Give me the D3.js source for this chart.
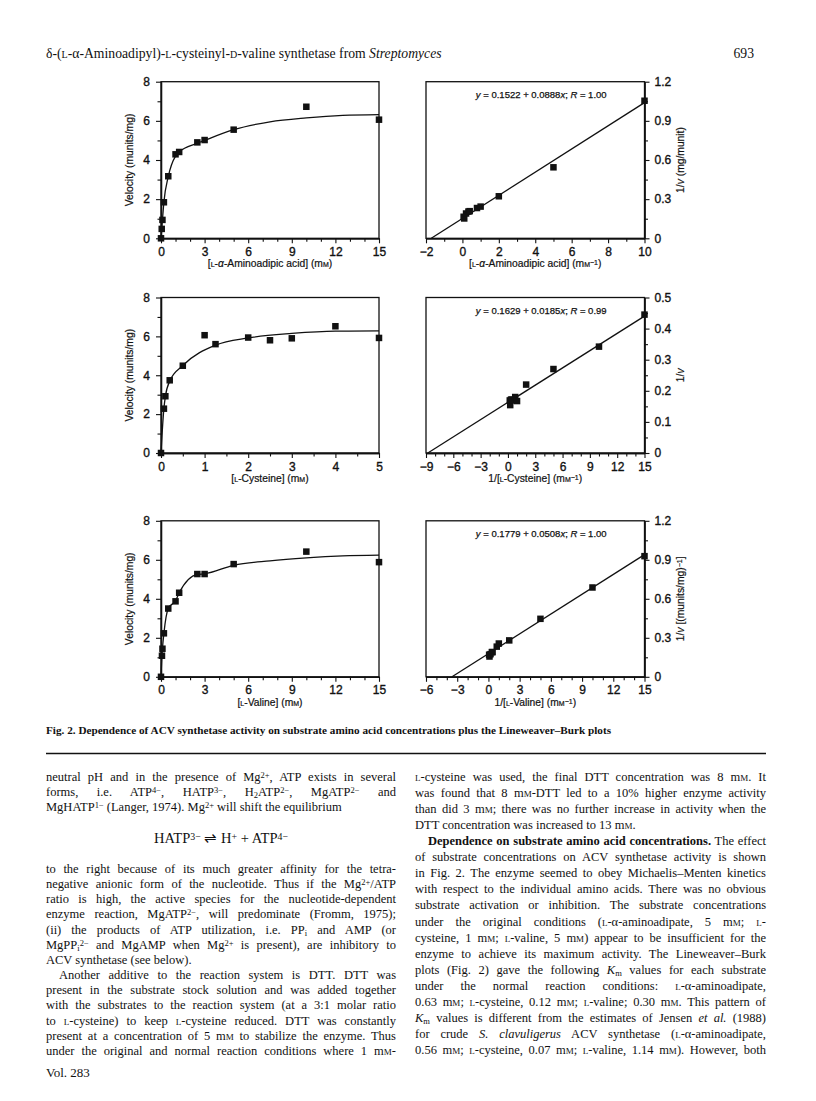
<!DOCTYPE html>
<html><head><meta charset="utf-8">
<script src="https://cdn.jsdelivr.net/npm/d3@7"></script>
<style>body{margin:0;background:#fff}</style>
</head><body>
<svg id="c" width="816" height="1101"></svg>
<script>
// ---------------- DATA ----------------
// Panel A: L-alpha-aminoadipic acid, velocity vs concentration
const aadConc = [0, 0.05, 0.1, 0.2, 0.5, 1.0, 1.25, 2.5, 3, 5, 10, 15];
const aadVel  = [0, 0.48, 0.94, 1.84, 3.17, 4.29, 4.41, 4.9, 5.02, 5.55, 6.72, 6.06];
const aadCurveConc = [0, 0.1, 0.2, 0.5, 1, 1.25, 2.5, 3, 5, 7.5, 10, 12.5, 15];
const aadCurveVel  = [0, 0.95, 1.85, 3.15, 4.2, 4.4, 4.85, 5.0, 5.55, 5.95, 6.15, 6.28, 6.32];
// Panel B: Lineweaver-Burk, aminoadipic acid
const aadInvConc = [0.067, 0.1, 0.2, 0.33, 0.4, 0.8, 1.0, 2.0, 5.0, 10.0];
const aadInvVel  = [0.165, 0.152, 0.19, 0.205, 0.208, 0.232, 0.243, 0.322, 0.544, 1.054];
const aadFitX = [-1.71, 10];
const aadFitY = [0, 1.04];
const aadEq = "|y| = 0.1522 + 0.0888|x|; |R| = 1.00";
// Panel C: L-cysteine
const cysConc = [0, 0.067, 0.1, 0.2, 0.5, 1, 1.25, 2, 2.5, 3, 4, 5];
const cysVel  = [0, 2.28, 2.92, 3.74, 4.49, 6.06, 5.6, 5.94, 5.8, 5.9, 6.52, 5.92];
const cysCurveConc = [0, 0.067, 0.1, 0.2, 0.5, 1.25, 2, 3, 4, 5];
const cysCurveVel  = [0, 2.3, 2.9, 3.7, 4.5, 5.55, 5.92, 6.15, 6.27, 6.28];
// Panel D: Lineweaver-Burk, cysteine
const cysInvConc = [0.2, 0.25, 0.33, 0.4, 0.5, 0.8, 1, 2, 5, 10, 15];
const cysInvVel  = [0.169, 0.154, 0.171, 0.172, 0.169, 0.18, 0.167, 0.22, 0.27, 0.342, 0.445];
const cysFitX = [-8.8, 15];
const cysFitY = [0, 0.44];
const cysEq = "|y| = 0.1629 + 0.0185|x|; |R| = 0.99";
// Panel E: L-valine
const valConc = [0, 0.067, 0.1, 0.2, 0.5, 1, 1.25, 2.5, 3, 5, 10, 15];
const valVel  = [0, 1.08, 1.44, 2.23, 3.5, 3.87, 4.31, 5.27, 5.27, 5.78, 6.42, 5.88];
const valCurveConc = [0, 0.067, 0.1, 0.2, 0.5, 1, 1.25, 2.5, 3, 5, 7.5, 10, 12.5, 15];
const valCurveVel  = [0, 1.1, 1.45, 2.23, 3.5, 3.9, 4.3, 5.25, 5.28, 5.72, 5.95, 6.1, 6.2, 6.24];
// Panel F: Lineweaver-Burk, valine
const valInvConc = [0.067, 0.1, 0.2, 0.33, 0.4, 0.8, 1, 2, 5, 10, 15];
const valInvVel  = [0.17, 0.156, 0.174, 0.19, 0.19, 0.232, 0.256, 0.28, 0.446, 0.687, 0.928];
const valFitX = [-3.5, 15];
const valFitY = [0, 0.94];
const valEq = "|y| = 0.1779 + 0.0508|x|; |R| = 1.00";

// Tick labels
const velTicks = [0, 2, 4, 6, 8];
const conc15Ticks = [0, 3, 6, 9, 12, 15];
const cysTicks = [0, 1, 2, 3, 4, 5];
const aadInvTicks = [-2, 0, 2, 4, 6, 8, 10];
const cysInvTicks = [-9, -6, -3, 0, 3, 6, 9, 12, 15];
const valInvTicks = [-6, -3, 0, 3, 6, 9, 12, 15];
const inv12Ticks = [0, 0.3, 0.6, 0.9, 1.2];
const inv05Ticks = [0, 0.1, 0.2, 0.3, 0.4, 0.5];

// Texts
const headerText = "δ-(~l~-α-Aminoadipyl)-~l~-cysteinyl-~d~-valine synthetase from |Streptomyces|";
const pageNo = "693";
const captionText = "**Fig. 2. Dependence of ACV synthetase activity on substrate amino acid concentrations plus the Lineweaver–Burk plots**";
const leftColA = [
  ["neutral pH and in the presence of Mg^{2+}, ATP exists in several", 1],
  ["forms, i.e. ATP^{4−}, HATP^{3−}, H_{2}ATP^{2−}, MgATP^{2−} and", 1],
  ["MgHATP^{1−} (Langer, 1974). Mg^{2+} will shift the equilibrium", 0]
];
const equationText = "HATP^{3−} ⇌ H^{+} + ATP^{4−}";
const leftColB = [
  ["to the right because of its much greater affinity for the tetra-", 1],
  ["negative anionic form of the nucleotide. Thus if the Mg^{2+}/ATP", 1],
  ["ratio is high, the active species for the nucleotide-dependent", 1],
  ["enzyme reaction, MgATP^{2−}, will predominate (Fromm, 1975);", 1],
  ["(ii) the products of ATP utilization, i.e. PP_{i} and AMP (or", 1],
  ["MgPP_{i}^{2−} and MgAMP when Mg^{2+} is present), are inhibitory to", 1],
  ["ACV synthetase (see below).", 0],
  ["Another additive to the reaction system is DTT. DTT was", 2],
  ["present in the substrate stock solution and was added together", 1],
  ["with the substrates to the reaction system (at a 3:1 molar ratio", 1],
  ["to ~l~-cysteine) to keep ~l~-cysteine reduced. DTT was constantly", 1],
  ["present at a concentration of 5 m~m~ to stabilize the enzyme. Thus", 1],
  ["under the original and normal reaction conditions where 1 m~m~-", 1]
];
const rightCol = [
  ["~l~-cysteine was used, the final DTT concentration was 8 m~m~. It", 1],
  ["was found that 8 m~m~-DTT led to a 10% higher enzyme activity", 1],
  ["than did 3 m~m~; there was no further increase in activity when the", 1],
  ["DTT concentration was increased to 13 m~m~.", 0],
  ["**Dependence on substrate amino acid concentrations.** The effect", 2],
  ["of substrate concentrations on ACV synthetase activity is shown", 1],
  ["in Fig. 2. The enzyme seemed to obey Michaelis–Menten kinetics", 1],
  ["with respect to the individual amino acids. There was no obvious", 1],
  ["substrate activation or inhibition. The substrate concentrations", 1],
  ["under the original conditions (~l~-α-aminoadipate, 5 m~m~; ~l~-", 1],
  ["cysteine, 1 m~m~; ~l~-valine, 5 m~m~) appear to be insufficient for the", 1],
  ["enzyme to achieve its maximum activity. The Lineweaver–Burk", 1],
  ["plots (Fig. 2) gave the following |K|_{m} values for each substrate", 1],
  ["under the normal reaction conditions: ~l~-α-aminoadipate,", 1],
  ["0.63 m~m~; ~l~-cysteine, 0.12 m~m~; ~l~-valine; 0.30 m~m~. This pattern of", 1],
  ["|K|_{m} values is different from the estimates of Jensen |et al.| (1988)", 1],
  ["for crude |S. clavuligerus| ACV synthetase (~l~-α-aminoadipate,", 1],
  ["0.56 m~m~; ~l~-cysteine, 0.07 m~m~; ~l~-valine, 1.14 m~m~). However, both", 1]
];
const volText = "Vol. 283";

// ---------------- RENDER ----------------
const svg = d3.select("#c");
const SERIF = "'Liberation Serif','Times New Roman',serif";
const SANS = "'Liberation Sans',Arial,Helvetica,sans-serif";
const INK = "#111";

function rich(t, str) {
  const re = /(\^\{[^}]*\}|_\{[^}]*\}|~[^~]*~|\|[^|]*\||\*\*[^*]*\*\*)/g;
  str.split(re).forEach(tok => {
    if (!tok) return;
    if (tok.startsWith("^{")) {
      t.append("tspan").text(tok.slice(2, -1)).attr("baseline-shift", "35%").style("font-size", "0.68em");
    } else if (tok.startsWith("_{")) {
      t.append("tspan").text(tok.slice(2, -1)).attr("baseline-shift", "-22%").style("font-size", "0.68em");
    } else if (tok.startsWith("**")) {
      t.append("tspan").text(tok.slice(2, -2)).attr("font-weight", "bold");
    } else if (tok.startsWith("~")) {
      t.append("tspan").text(tok.slice(1, -1)).style("font-variant", "small-caps");
    } else if (tok.startsWith("|")) {
      t.append("tspan").text(tok.slice(1, -1)).attr("font-style", "italic");
    } else {
      t.append("tspan").text(tok);
    }
  });
  return t;
}

function textLine(x, y, str, o) {
  const t = svg.append("text").attr("x", x).attr("y", y)
    .attr("font-family", o.family || SERIF).attr("font-size", o.size || 12.5)
    .attr("fill", INK);
  if (o.anchor) t.attr("text-anchor", o.anchor);
  rich(t, str);
  if (o.width) {
    const nat = t.node().getComputedTextLength();
    const n = (t.node().textContent.match(/ /g) || []).length;
    if (n > 0) {
      t.style("word-spacing", ((o.width - nat) / n) + "px");
      const now = t.node().getComputedTextLength();
      if (Math.abs(now - o.width) > 2) {
        t.style("word-spacing", null).attr("textLength", o.width).attr("lengthAdjust", "spacing");
      }
    }
  }
  return t;
}

// Header
textLine(46, 58, headerText, {size: 13.7});
textLine(754, 58, pageNo, {size: 13.7, anchor: "end"});

// Panels
const colX = {L: [161, 379], R: [426, 644.5]};
const rows = [[81.7, 238.3], [297.5, 453], [520.8, 676.8]];

const panels = [
  {type: "mm", col: "L", row: 0, xd: [0, 15], yd: [0, 8], xt: conc15Ticks, xm: 1, yt: velTicks, ym: 1,
   px: aadConc, py: aadVel, cx: aadCurveConc, cy: aadCurveVel,
   xlab: "[~l~-|α|-Aminoadipic acid] (m~m~)", ylab: "Velocity (munits/mg)"},
  {type: "lb", col: "R", row: 0, xd: [-2, 10], yd: [0, 1.2], xt: aadInvTicks, xm: 1, yt: inv12Ticks, ym: 0.15,
   px: aadInvConc, py: aadInvVel, fx: aadFitX, fy: aadFitY, eq: aadEq,
   xlab: "[~l~-|α|-Aminoadipic acid] (m~m~^{−1})", ylab: "1/|v| (mg/munit)"},
  {type: "mm", col: "L", row: 1, xd: [0, 5], yd: [0, 8], xt: cysTicks, xm: 0.5, yt: velTicks, ym: 1,
   px: cysConc, py: cysVel, cx: cysCurveConc, cy: cysCurveVel,
   xlab: "[~l~-Cysteine] (m~m~)", ylab: "Velocity (munits/mg)"},
  {type: "lb", col: "R", row: 1, xd: [-9, 15], yd: [0, 0.5], xt: cysInvTicks, xm: 1, yt: inv05Ticks, ym: 0.05,
   px: cysInvConc, py: cysInvVel, fx: cysFitX, fy: cysFitY, eq: cysEq,
   xlab: "1/[~l~-Cysteine] (m~m~^{−1})", ylab: "1/|v|"},
  {type: "mm", col: "L", row: 2, xd: [0, 15], yd: [0, 8], xt: conc15Ticks, xm: 1, yt: velTicks, ym: 1,
   px: valConc, py: valVel, cx: valCurveConc, cy: valCurveVel,
   xlab: "[~l~-Valine] (m~m~)", ylab: "Velocity (munits/mg)"},
  {type: "lb", col: "R", row: 2, xd: [-6, 15], yd: [0, 1.2], xt: valInvTicks, xm: 1, yt: inv12Ticks, ym: 0.15,
   px: valInvConc, py: valInvVel, fx: valFitX, fy: valFitY, eq: valEq,
   xlab: "1/[~l~-Valine] (m~m~^{−1})", ylab: "1/|v| [(munits/mg)^{−1}]"}
];

const fmt = d => d3.format("")(d).replace("-", "−");

panels.forEach(p => {
  const [x0, x1] = colX[p.col];
  const [top, bot] = rows[p.row];
  const x = d3.scaleLinear().domain(p.xd).range([x0, x1]);
  const y = d3.scaleLinear().domain(p.yd).range([bot, top]);
  const g = svg.append("g");

  // frame
  g.append("rect").attr("x", x0).attr("y", top).attr("width", x1 - x0).attr("height", bot - top)
    .attr("fill", "none").attr("stroke", INK).attr("stroke-width", 1.3);

  // minor ticks
  const xMinor = d3.range(p.xd[0], p.xd[1] + 1e-9, p.xm).filter(v => !p.xt.some(t => Math.abs(t - v) < 1e-6));
  const yMinor = d3.range(p.yd[0], p.yd[1] + 1e-9, p.ym).filter(v => !p.yt.some(t => Math.abs(t - v) < 1e-6));

  g.append("g").attr("transform", `translate(0,${bot})`)
    .call(d3.axisBottom(x).tickValues(p.xt).tickSize(5).tickSizeOuter(0).tickPadding(4).tickFormat(fmt));
  g.append("g").attr("transform", `translate(0,${bot})`)
    .call(d3.axisBottom(x).tickValues(xMinor).tickSize(3.5).tickSizeOuter(0).tickFormat(""));
  if (p.type === "mm") {
    g.append("g").attr("transform", `translate(${x0},0)`)
      .call(d3.axisLeft(y).tickValues(p.yt).tickSize(5).tickSizeOuter(0).tickPadding(6).tickFormat(fmt));
    g.append("g").attr("transform", `translate(${x0},0)`)
      .call(d3.axisLeft(y).tickValues(yMinor).tickSize(3.5).tickSizeOuter(0).tickFormat(""));
  } else {
    g.append("g").attr("transform", `translate(${x1},0)`)
      .call(d3.axisRight(y).tickValues(p.yt).tickSize(5).tickSizeOuter(0).tickPadding(5).tickFormat(fmt));
    g.append("g").attr("transform", `translate(${x1},0)`)
      .call(d3.axisRight(y).tickValues(yMinor).tickSize(3.5).tickSizeOuter(0).tickFormat(""));
  }
  g.selectAll(".domain").attr("stroke", INK).attr("stroke-width", 1.3);
  g.selectAll(".tick line").attr("stroke", INK).attr("stroke-width", 1.1);
  g.selectAll(".tick text").attr("font-family", SANS).attr("font-size", 12).attr("fill", INK)
    .attr("stroke", INK).attr("stroke-width", 0.35);

  // curve or fit line
  if (p.type === "mm") {
    const pts = p.cx.map((v, i) => [v, p.cy[i]]);
    g.append("path").attr("d", d3.line().x(d => x(d[0])).y(d => y(d[1])).curve(d3.curveMonotoneX)(pts))
      .attr("fill", "none").attr("stroke", INK).attr("stroke-width", 1.3);
  } else {
    const pts = p.fx.map((v, i) => [v, p.fy[i]]);
    g.append("path").attr("d", d3.line().x(d => x(d[0])).y(d => y(d[1]))(pts))
      .attr("fill", "none").attr("stroke", INK).attr("stroke-width", 1.3);
    textLine((x0 + x1) / 2 + 6, top + 16, p.eq, {family: SANS, size: 9.5, anchor: "middle"})
      .attr("stroke", INK).attr("stroke-width", 0.25);
  }

  // points
  const s = 6.5;
  g.selectAll("rect.pt").data(p.px.map((v, i) => [v, p.py[i]])).enter().append("rect")
    .attr("class", "pt").attr("x", d => x(d[0]) - s / 2).attr("y", d => y(d[1]) - s / 2)
    .attr("width", s).attr("height", s).attr("fill", INK);

  // axis titles
  textLine((x0 + x1) / 2, bot + 29, p.xlab, {family: SANS, size: 10.3, anchor: "middle"})
    .attr("stroke", INK).attr("stroke-width", 0.2);
  const yc = (top + bot) / 2;
  const tx = p.type === "mm" ? x0 - 28 : x1 + 39;
  textLine(0, 0, p.ylab, {family: SANS, size: 10.3, anchor: "middle"})
    .attr("x", null).attr("y", null)
    .attr("transform", `translate(${tx},${yc}) rotate(-90)`)
    .attr("stroke", INK).attr("stroke-width", 0.2);
});

// Caption and rule
textLine(46, 734, captionText, {size: 11.2, width: 565});
svg.append("line").attr("x1", 46).attr("x2", 766).attr("y1", 753.5).attr("y2", 753.5)
  .attr("stroke", INK).attr("stroke-width", 1.3);

// Body text
const LX = 46, LW = 350, RX = 415, RW = 351, IND = 13;
const lead = 15.15;
leftColA.forEach((d, i) => {
  const ind = d[1] === 2 ? IND : 0;
  textLine(LX + ind, 781 + i * lead, d[0], {size: 12.5, width: d[1] ? LW - ind : null});
});
textLine(LX + LW / 2, 843, equationText, {size: 14.5, anchor: "middle"});
leftColB.forEach((d, i) => {
  const ind = d[1] === 2 ? IND : 0;
  textLine(LX + ind, 873 + i * lead, d[0], {size: 12.5, width: d[1] ? LW - ind : null});
});
const rlead = (1054 - 781) / 17;
rightCol.forEach((d, i) => {
  const ind = d[1] === 2 ? IND : 0;
  textLine(RX + ind, 781 + i * rlead, d[0], {size: 12.5, width: d[1] ? RW - ind : null});
});
textLine(46, 1077, volText, {size: 13});
</script>
</body></html>
